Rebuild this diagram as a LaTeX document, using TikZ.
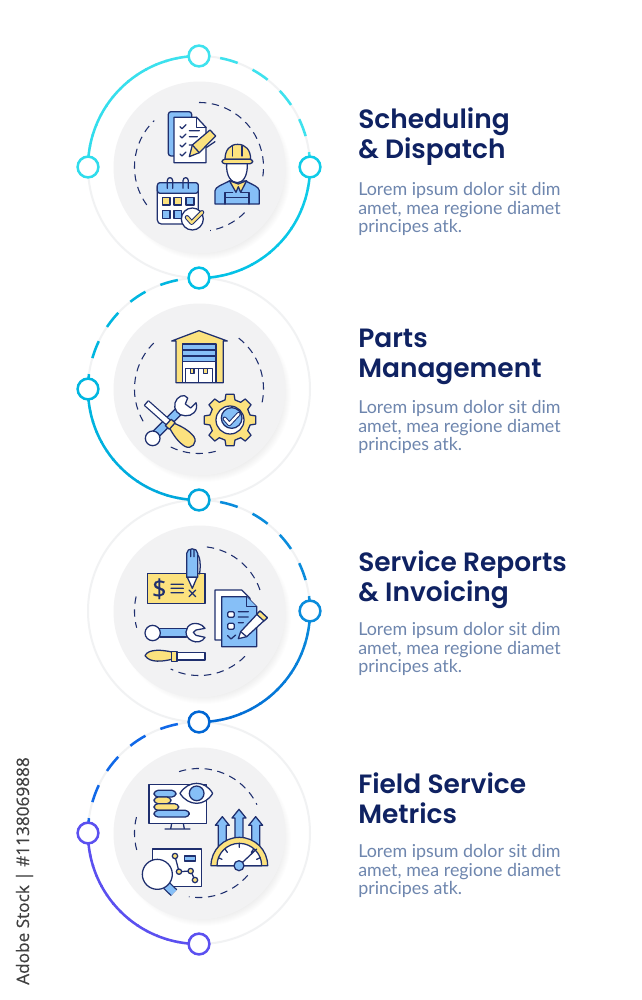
\documentclass[tikz,border=0pt]{standalone}
\usepackage{fontspec}
\setmainfont{Lato}
\newfontfamily\titlef{Poppins SemiBold}
\newfontfamily\stockf[FakeBold=0.4]{Open Sans}
\definecolor{navy}{HTML}{1F2F6E}
\definecolor{bb}{HTML}{86BFF7}
\definecolor{yy}{HTML}{FCE27E}
\definecolor{pale}{HTML}{F1F2F3}
\definecolor{disc}{HTML}{F2F2F3}
\definecolor{ttl}{HTML}{0F2262}
\definecolor{bod}{HTML}{6E86AE}
\definecolor{cA}{HTML}{3EE2EE}
\definecolor{cB}{HTML}{2FDCEC}
\definecolor{cC}{HTML}{00C0E6}
\definecolor{cD}{HTML}{10CCE8}
\definecolor{cE}{HTML}{00B6E0}
\definecolor{cF}{HTML}{00A6DC}
\definecolor{cG}{HTML}{0A8CDC}
\definecolor{cH}{HTML}{0066D4}
\definecolor{cI}{HTML}{1068E8}
\definecolor{cJ}{HTML}{5B50F0}
\tikzset{
 dot/.style={circle,draw=#1,fill=white,line width=1.9pt,minimum size=15.6pt,inner sep=0pt},
 ic/.style={draw=navy,line width=0.95pt,line join=round,line cap=round},
 bandw/.style={draw=navy,line width=0.95pt,double=white,double distance=3.6pt},
 bandb/.style={draw=navy,line width=0.95pt,double=bb,double distance=5pt},
 dring/.style={draw=navy,line width=0.8pt,dash pattern=on 5.5pt off 4.2pt},
 ttlnode/.style={anchor=north west,inner sep=0pt,align=left,text=ttl,font=\titlef\fontsize{19.85}{22.5}\selectfont},
 bodnode/.style={anchor=north west,inner sep=0pt,align=left,text=bod,font=\fontsize{13.4}{14}\selectfont},
}
\newcommand{\gradarc}[5]{% centre, start, end, colA, colB
 \foreach \i in {0,...,15}{
  \pgfmathsetmacro{\sa}{#2+(#3-#2)*\i/16}
  \pgfmathsetmacro{\ea}{#2+(#3-#2)*(\i+1.1)/16}
  \pgfmathsetmacro{\p}{100-\i*100/15}
  \draw[#4!\p!#5,line width=1.9pt] (#1) ++(\sa:83.25pt) arc[start angle=\sa,end angle=\ea,radius=83.25pt];
 }}
\newcommand{\dasharc}[4]{% centre, start, end, colour
 \draw[#4,line width=1.9pt,dash pattern=on 13.6pt off 12.3pt] (#1) ++(#2:83.25pt) arc[start angle=#2,end angle=#3,radius=83.25pt];}
\newcommand{\ringarc}[3]{\draw[dring] (#1) ++(#2:48.4pt) arc[start angle=#2,end angle=#3,radius=48.4pt];}
\begin{document}
\begin{tikzpicture}[x=0.75pt,y=-0.75pt]
\useasboundingbox (0,0) rectangle (642,1000);
\fill[white] (0,0) rectangle (642,1000);
\coordinate (c1) at (199,167);
\coordinate (c2) at (199,389);
\coordinate (c3) at (199,611);
\coordinate (c4) at (199,833);
% pale rings and discs
\foreach \c in {c1,c2,c3,c4}{
 \draw[pale,line width=1.5pt] (\c) circle[radius=111];
 \foreach \r in {87,86,...,78}{\fill[black,opacity=0.007] (\c) ++(5,6) circle[radius=\r];}
 \fill[disc] (\c) ++(0.5,0.5) circle[radius=86];
}
% dashed inner rings
\ringarc{c1}{90}{-11}\ringarc{c1}{-45}{-80}\ringarc{c1}{216}{134}
\ringarc{c2}{52}{-12.5}\ringarc{c2}{-75}{-116}\ringarc{c2}{210}{131}
\ringarc{c3}{83}{14.4}\ringarc{c3}{-44.6}{-116}\ringarc{c3}{167}{195}
\ringarc{c4}{108}{26}\ringarc{c4}{-41}{-99}\ringarc{c4}{165.7}{200}
% coloured arcs
\gradarc{c1}{90}{180}{cA}{cB}
\dasharc{c1}{79}{0}{cA}
\gradarc{c1}{270}{360}{cC}{cD}
\dasharc{c2}{101}{180}{cE}
\gradarc{c2}{180}{270}{cE}{cF}
\dasharc{c3}{79}{0}{cG}
\gradarc{c3}{0}{-90}{cG}{cH}
\dasharc{c4}{101}{180}{cI}
\gradarc{c4}{180}{270}{cJ}{cJ}
% joint nodes
\node[dot=cA] (n1t) at (199,56) {};
\node[dot=cB] (n1l) at (88,167) {};
\node[dot=cD] (n1r) at (310,167) {};
\node[dot=cC] (n12) at (199,278) {};
\node[dot=cE] (n2l) at (88,389) {};
\node[dot=cF] (n23) at (199,500) {};
\node[dot=cG] (n3r) at (310,611) {};
\node[dot=cH] (n34) at (199,722) {};
\node[dot=cJ] (n4l) at (88,833) {};
\node[dot=cJ] (n4b) at (199,944) {};
%%%%%%%%%% ICON 1
\begin{scope}[shift={(70,30)},scale=1/3]
 \draw[ic,fill=bb,rounded corners=2pt] (295,378)--(295,245)--(365,245)--(365,378)--cycle;
 \draw[ic,fill=white] (312,398)--(312,262)--(380,262)--(408,292)--(408,398)--cycle;
 \draw[ic] (380,262)--(380,292)--(408,292);
 \foreach \y in {290,318,345,372}{\draw[ic] (330,\y)--(336,\y+6)--(348,\y-6);}
 \draw[ic] (358,302)--(388,302) (358,320)--(382,320) (358,345)--(368,345) (410,352)--(435,335);
 \draw[ic,fill=yy] (358,380)--(367,345)--(420,300)--(437,318)--(388,368)--cycle;
 \draw[ic] (367,345)--(388,368);
 % worker
 \draw[ic,fill=bb] (435,522)--(435,482) .. controls (437,470) and (455,465) .. (478,453)--(527,453) .. controls (550,465) and (566,470) .. (568,482)--(568,522)--cycle;
 \draw[ic] (465,522)--(465,487)--(488,487) (537,522)--(537,487)--(514,487) (465,502)--(537,502);
 \draw[ic,fill=yy] (478,452)--(498,487)--(505,470)--(512,487)--(530,452)--(505,462)--cycle;
 \draw[ic,fill=white] (470,398) .. controls (467,440) and (485,458) .. (502,458) .. controls (518,458) and (534,440) .. (532,398)--cycle;
 \draw[ic,fill=yy] (465,388) .. controls (465,360) and (480,343) .. (503,343) .. controls (527,343) and (542,360) .. (542,388)--cycle;
 \draw[ic,fill=yy,rounded corners=2pt] (456,388) rectangle (548,401);
 \draw[ic] (488,347)--(488,378) (516,347)--(516,378);
 % calendar
 \draw[ic,fill=white,rounded corners=3pt] (262,458) rectangle (385,582);
 \draw[ic,fill=bb,rounded corners=2pt] (262,490)--(262,458)--(385,458)--(385,490)--cycle;
 \foreach \x in {300,347}{\draw[ic] (\x-8,475)--(\x-8,452) .. controls (\x-8,440) and (\x+8,440) .. (\x+8,452)--(\x+8,475);}
 \draw[ic,fill=yy] (277,502) rectangle (300,525) (312,502) rectangle (335,525);
 \draw[ic,fill=bb] (348,502) rectangle (372,525) (277,542) rectangle (300,565) (312,542) rectangle (335,565);
 \draw[ic,fill=white] (367,567) circle[radius=33];
 \draw[navy,line width=3.4pt,line cap=round,line join=round] (351,562)--(365,578)--(396,547);
 \draw[yy,line width=1.9pt,line cap=round,line join=round] (351,562)--(365,578)--(396,547);
\end{scope}
%%%%%%%%%% ICON 2
\begin{scope}[shift={(70,270)},scale=1/3]
 \draw[ic,fill=yy] (318,338)--(318,213)--(305,213)--(387,182)--(472,213)--(460,213)--(460,338)--cycle;
 \draw[ic,fill=bb] (338,222) rectangle (438,275);
 \draw[ic] (338,240)--(438,240) (338,258)--(438,258);
 \draw[ic,fill=white] (338,275) rectangle (438,338);
 \draw[ic,fill=white] (347,295) rectangle (385,338) (385,295) rectangle (428,338);
 \draw[ic,fill=yy] (361,295) rectangle (372,310) (400,295) rectangle (412,310);
 % wrench
 \draw[bandb] (258,492)--(328,422);
 \draw[ic,fill=white] (333,378) .. controls (315,385) and (308,410) .. (320,425) .. controls (330,440) and (360,442) .. (372,428) .. controls (380,420) and (382,408) .. (378,398)--(362,414)--(346,402)--(353,384) .. controls (348,376) and (340,376) .. (333,378)--cycle;
 \draw[ic,fill=white] (248,505) circle[radius=22];
 % screwdriver
 \draw[bandw] (229,399)--(300,462);
 \draw[ic] (224,405)--(234,393);
 \begin{scope}[shift={(300,462)},rotate=-42]
  \draw[ic,fill=yy] (8,-10) .. controls (30,-18) and (55,-24) .. (78,-20) .. controls (100,-15) and (100,15) .. (78,20) .. controls (55,24) and (30,18) .. (8,10)--cycle;
  \draw[ic,fill=yy] (-7,-13) rectangle (9,13);
 \end{scope}
 % gear
 \begin{scope}[shift={(480,450)}]
  \draw[ic,fill=yy] (-14:62) \foreach \a in {0,45,...,315}{ -- (\a-14:62) -- (\a-9:78) -- (\a+9:78) -- (\a+14:62) } -- cycle;
  \draw[ic,fill=white] (0,0) circle[radius=42];
  \draw[ic,fill=bb] (5,-6) circle[radius=31];
  \draw[navy,line width=3.2pt,line cap=round,line join=round] (-16,-4)--(-2,12)--(26,-18);
  \draw[white,line width=1.7pt,line cap=round,line join=round] (-16,-4)--(-2,12)--(26,-18);
 \end{scope}
\end{scope}
%%%%%%%%%% ICON 3
\begin{scope}[shift={(70,490)},scale=1/3]
 \draw[ic,fill=yy] (232,250) rectangle (405,340);
 \node[text=navy,font=\stockf\fontsize{19}{19}\selectfont,inner sep=0pt] (dollar) at (268,296) {\$};
 \draw[ic] (303,283)--(340,283) (303,295)--(340,295) (303,308)--(340,308) (357,300)--(377,320) (377,300)--(357,320);
 \draw[ic,fill=bb] (350,262)--(350,190) .. controls (350,172) and (383,172) .. (383,190)--(383,262)--cycle;
 \draw[ic,fill=white] (352,262)--(381,262)--(367,295)--cycle;
 \draw[ic] (362,180)--(362,200) (372,180)--(372,200) (383,195) .. controls (392,200) and (392,240) .. (388,252);
 \draw[ic,fill=white] (435,450)--(435,300)--(515,300)--(540,325)--(540,450)--cycle;
 \draw[ic,fill=bb] (455,470)--(455,320)--(530,320)--(560,350)--(560,470)--cycle;
 \draw[ic,fill=bb] (530,320)--(530,350)--(560,350);
 \draw[ic,fill=white,rounded corners=1pt] (473,365) rectangle (493,382) (473,400) rectangle (493,418);
 \draw[ic] (505,365)--(535,365) (505,381)--(535,381) (505,398)--(520,398) (473,437)--(483,447)--(497,435);
 \draw[ic,fill=white] (505,446)--(512,425)--(570,363)--(592,383)--(530,440)--cycle;
 \draw[ic,fill=yy] (560,373)--(570,363)--(592,383)--(582,393)--cycle;
 \draw[ic] (512,425)--(530,440);
 % wrench
 \draw[ic,fill=bb] (268,415) rectangle (350,441);
 \draw[ic,fill=white] (405,415) .. controls (395,400) and (375,398) .. (365,402) .. controls (345,410) and (340,440) .. (365,452) .. controls (380,460) and (398,455) .. (405,442)--(378,436)--(370,427)--(378,420)--cycle;
 \draw[ic,fill=white] (248,429) circle[radius=23];
 % screwdriver
 \draw[ic,fill=white] (320,488) rectangle (405,510);
 \draw[ic,fill=yy] (225,497) .. controls (235,475) and (280,480) .. (305,486)--(305,508) .. controls (280,514) and (240,520) .. (225,497)--cycle;
 \draw[ic,fill=yy] (305,484) rectangle (321,514);
\end{scope}
%%%%%%%%%% ICON 4
\begin{scope}[shift={(70,715)},scale=1/3]
 \draw[ic] (305,325)--(302,342) (340,325)--(343,342) (285,342)--(360,342);
 \draw[ic,fill=white] (237,208) rectangle (410,325);
 \draw[ic,fill=bb,rounded corners=3pt] (252,226) rectangle (318,246);
 \draw[ic,fill=yy,rounded corners=3pt] (252,246) rectangle (303,266);
 \draw[ic,fill=yy,rounded corners=3pt] (252,266) rectangle (326,286);
 \draw[ic,fill=bb,rounded corners=3pt] (252,286) rectangle (358,306);
 \draw[ic,fill=white] (330,235) .. controls (355,195) and (405,195) .. (428,235) .. controls (405,275) and (355,275) .. (330,235)--cycle;
 \draw[ic,fill=bb] (380,235) circle[radius=22];
 \foreach \x/\t in {457/305,507/283,557/305}{
  \draw[ic,fill=bb] (\x-12,400)--(\x-12,\t+26)--(\x-21,\t+26)--(\x,\t)--(\x+21,\t+26)--(\x+12,\t+26)--(\x+12,400)--cycle;}
 \draw[ic,fill=yy] (423,452) arc[start angle=180,end angle=360,radius=85]--cycle;
 \draw[ic,fill=white] (441,452) arc[start angle=180,end angle=360,radius=67]--cycle;
 \draw[ic] (508,385)--(508,397) (465,402)--(472,412) (445,428)--(456,433) (551,402)--(544,412) (571,428)--(560,433) (507,452)--(560,402);
 \draw[ic,fill=bb] (507,452) circle[radius=15];
 \draw[ic,fill=white] (248,402) rectangle (395,515);
 \draw[ic] (315,423)--(327,470)--(362,468)--(375,495);
 \foreach \x/\y in {315/423,327/470,362/468,375/495}{\draw[ic,fill=yy] (\x,\y) circle[radius=8];}
 \draw[ic,fill=bb] (343,423) rectangle (377,438);
 \draw[bandb] (290,512)--(312,533);
 \draw[ic,fill=white] (262,478) circle[radius=45];
\end{scope}
%%%%%%%%%% TEXT
\node[ttlnode] (t1) at (358,107) {Scheduling\\\& Dispatch};
\node[bodnode] (b1) at (358,182) {Lorem ipsum dolor sit dim\\amet, mea regione diamet\\principes atk.};
\node[ttlnode] (t2) at (358,329) {Parts\\Management};
\node[bodnode] (b2) at (358,400) {Lorem ipsum dolor sit dim\\amet, mea regione diamet\\principes atk.};
\node[ttlnode] (t3) at (358,550) {Service Reports\\\& Invoicing};
\node[bodnode] (b3) at (358,622) {Lorem ipsum dolor sit dim\\amet, mea regione diamet\\principes atk.};
\node[ttlnode] (t4) at (358,772) {Field Service\\Metrics};
\node[bodnode] (b4) at (358,844) {Lorem ipsum dolor sit dim\\amet, mea regione diamet\\principes atk.};
\node[rotate=90,anchor=base west,inner sep=0pt,text=black!75,font=\stockf\fontsize{12.9}{14}\selectfont] (stock) at (29,985) {Adobe Stock | \#1138069888};
\end{tikzpicture}
\end{document}
